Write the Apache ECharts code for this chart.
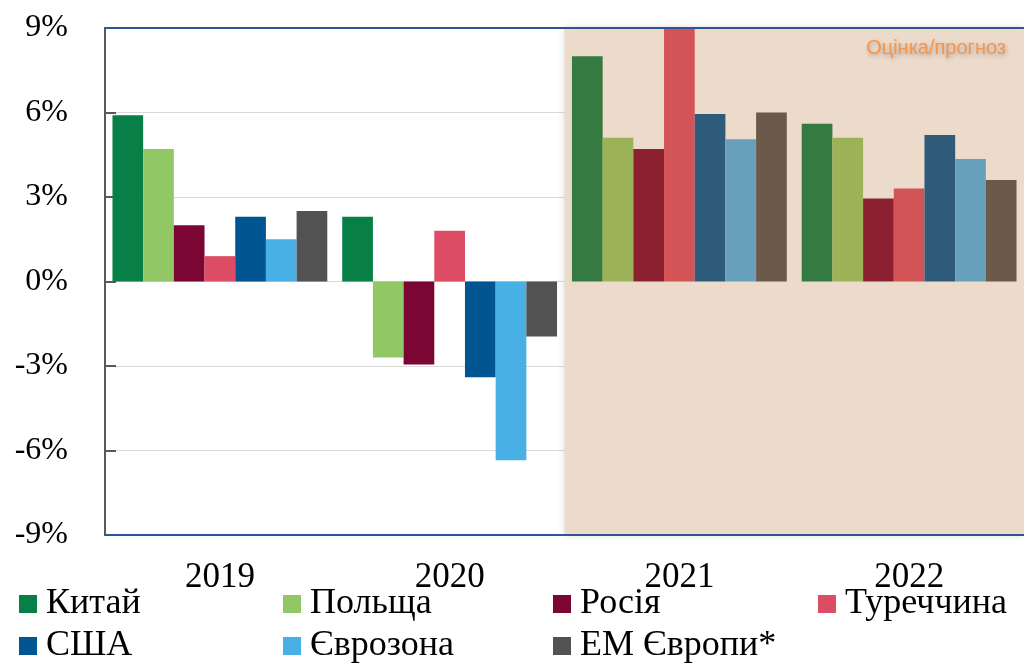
<!DOCTYPE html>
<html>
<head>
<meta charset="utf-8">
<script src="https://cdn.jsdelivr.net/npm/echarts@6/dist/echarts.min.js"></script>
<style>
html,body{margin:0;padding:0;background:#fff;}
#chart{width:1024px;height:666px;}
</style>
</head>
<body>
<div id="chart"></div>
<script>
// ---- data ----
const years = ['2019', '2020', '2021', '2022'];
const seriesNames = ['Китай', 'Польща', 'Росія', 'Туреччина', 'США', 'Єврозона', 'ЕМ Європи*'];
const china    = [5.9, 2.3, 8.0, 5.6];
const poland   = [4.7, -2.7, 5.1, 5.1];
const russia   = [2.0, -2.95, 4.7, 2.95];
const turkey   = [0.9, 1.8, 9.0, 3.3];
const usa      = [2.3, -3.4, 5.95, 5.2];
const eurozone = [1.5, -6.35, 5.05, 4.35];
const emEurope = [2.5, -1.95, 6.0, 3.6];
const yTicks = [-9, -6, -3, 0, 3, 6, 9];
const forecastStart = 2; // index of first forecast year
const forecastLabel = 'Оцінка/прогноз';

// ---- styles ----
const colors = ['#077f47', '#92c765', '#7b0533', '#dc4c64', '#015590', '#48b0e4', '#525252'];
const forecastColors = ['#357a40', '#9cb256', '#8b2030', '#d35457', '#2f5b7a', '#66a0ba', '#6b5a4a'];
const allValues = [china, poland, russia, turkey, usa, eurozone, emEurope];
const serif = '"Liberation Serif", "Times New Roman", serif';

const chart = echarts.init(document.getElementById('chart'));

const barSeries = allValues.map((vals, s) => ({
  name: seriesNames[s],
  type: 'bar',
  xAxisIndex: 0,
  yAxisIndex: 0,
  z: 3,
  barGap: '0%',
  barCategoryGap: '6.5%',
  itemStyle: { color: colors[s] },
  data: vals.map((v, i) => i >= forecastStart
    ? { value: v, itemStyle: { color: forecastColors[s] } }
    : v)
}));

const shadeSeries = {
  name: 'forecast-area',
  type: 'line',
  xAxisIndex: 1,
  yAxisIndex: 0,
  z: 0,
  data: [],
  silent: true,
  markArea: {
    silent: true,
    itemStyle: {
      color: '#ecdacb',
      shadowBlur: 8,
      shadowColor: 'rgba(0,0,0,0.15)'
    },
    label: { show: false },
    data: [[
      { xAxis: forecastStart, yAxis: yTicks[0] },
      { xAxis: years.length, yAxis: yTicks[yTicks.length - 1] }
    ]]
  }
};

// legend: 4 columns x 2 rows
const colX = [19, 283, 553, 818];
const rowTop = [586, 628];
const legends = seriesNames.map((n, i) => ({
  data: [n],
  left: colX[i % 4],
  top: rowTop[Math.floor(i / 4)],
  icon: 'rect',
  itemWidth: 18,
  itemHeight: 18,
  padding: 0,
  selectedMode: false,
  textStyle: {
    fontFamily: serif,
    fontSize: 36,
    color: '#000',
    padding: [0, 0, 0, 4]
  }
}));

chart.setOption({
  animation: false,
  backgroundColor: '#fff',
  grid: { left: 105, top: 28, width: 920, height: 507, containLabel: false },
  legend: legends,
  graphic: [{
    type: 'text',
    right: 18,
    top: 38,
    z: 10,
    silent: true,
    style: {
      text: forecastLabel,
      fill: '#f5964d',
      fontSize: 20,
      fontFamily: '"Liberation Sans", Arial, sans-serif',
      textShadowColor: 'rgba(0,0,0,0.25)',
      textShadowBlur: 4,
      textShadowOffsetX: 1,
      textShadowOffsetY: 2
    }
  }],
  xAxis: [
    {
      type: 'category',
      data: years,
      position: 'bottom',
      axisLine: { show: true, onZero: false, lineStyle: { color: '#2f5597', width: 2 } },
      axisTick: { show: false },
      axisLabel: { fontFamily: serif, fontSize: 35, color: '#000', margin: 25 },
      splitLine: { show: false },
      z: 4
    },
    {
      type: 'value',
      min: 0,
      max: years.length,
      position: 'top',
      axisLine: { show: true, onZero: false, lineStyle: { color: '#2f5597', width: 2 } },
      axisTick: { show: false },
      axisLabel: { show: false },
      splitLine: { show: false },
      z: 4
    }
  ],
  yAxis: {
    type: 'value',
    min: yTicks[0],
    max: yTicks[yTicks.length - 1],
    interval: 3,
    z: 1,
    axisLine: { show: true, lineStyle: { color: '#595959', width: 2 } },
    axisTick: { show: true, inside: true, length: 11, lineStyle: { color: '#595959', width: 2 } },
    axisLabel: {
      fontFamily: serif,
      fontSize: 32,
      color: '#000',
      margin: 37,
      padding: [6, 0, 0, 0],
      formatter: v => v + '%'
    },
    splitLine: { show: true, lineStyle: { color: 'rgba(0,0,0,0.15)', width: 1 } }
  },
  series: [shadeSeries].concat(barSeries)
});
</script>
</body>
</html>
